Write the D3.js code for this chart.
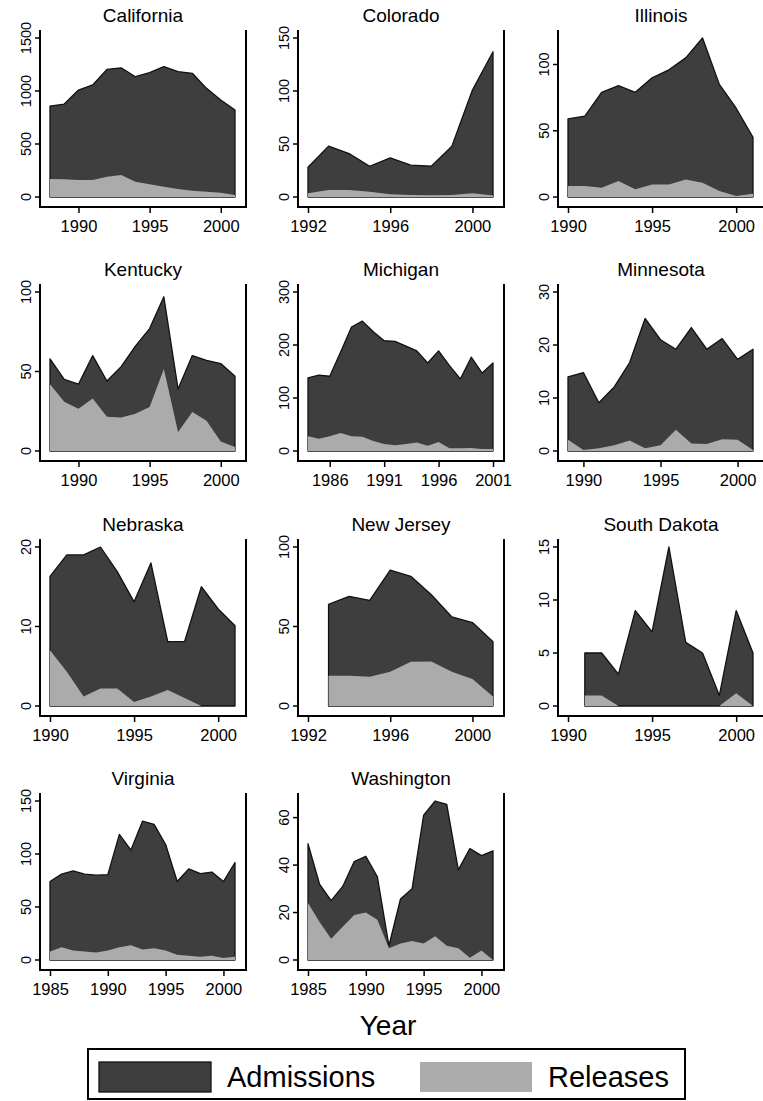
<!DOCTYPE html>
<html>
<head>
<meta charset="utf-8">
<script src="https://cdn.jsdelivr.net/npm/d3@7"></script>
<style>
  body { margin: 0; background: #fff; }
  svg { display: block; }
  text { font-family: Arial, "Liberation Sans", Helvetica, sans-serif; fill: #000; }
</style>
</head>
<body>
<div id="chart"></div>
<script>
// Prison admissions vs releases by state, small multiples (area charts)

const states = ["California", "Colorado", "Illinois", "Kentucky", "Michigan", "Minnesota",
                "Nebraska", "New Jersey", "South Dakota", "Virginia", "Washington"];

// first year of data for each state (one value per year after that)
const firstYear = [1988, 1992, 1990, 1988, 1984, 1989, 1990, 1993, 1991, 1985, 1985];

const admissions = [
  [858, 877, 1009, 1057, 1204, 1219, 1135, 1173, 1230, 1183, 1167, 1025, 915, 821],
  [28, 48, 41, 29, 37, 30, 29, 48, 101, 137],
  [59, 61, 79, 84, 79, 90, 96, 105, 120, 85, 67, 45],
  [58, 45, 42, 60, 44, 53, 66, 77, 97, 39, 60, 57, 55, 47],
  [138, 143, 141, 187, 234, 245, 225, 208, 207, 198, 189, 166, 189, 161, 136, 177, 147, 166],
  [14, 14.8, 9.1, 12.1, 16.7, 25, 21, 19.2, 23.3, 19.2, 21.2, 17.3, 19.2],
  [16.3, 19, 19, 20, 16.9, 13.1, 18, 8.1, 8.1, 15, 12.2, 10.1],
  [64, 69, 66.5, 85.4, 81.6, 70, 56, 52.5, 40.5],
  [5, 5, 3, 9, 7, 15, 6, 5, 1, 9, 5],
  [74, 81, 84, 81, 80, 80.5, 118.5, 103.7, 131, 128, 109, 74, 86, 81.5, 83, 74, 92],
  [49, 32, 25, 31, 41.5, 43.7, 35, 6, 25.7, 30, 61, 67, 65.6, 38, 47, 44, 46]
];

const releases = [
  [170, 168, 160, 160, 191, 207, 144, 120, 97, 75, 60, 50, 41, 19],
  [3.5, 6.6, 6.6, 5, 2.5, 1.9, 1.6, 1.9, 3.5, 1.3],
  [8.3, 8.3, 7, 12, 5.8, 9.5, 9.5, 13.3, 10.8, 4.5, 0.8, 2.5],
  [42, 31, 26.5, 33, 21.5, 21, 23.5, 27.7, 51.5, 12, 24.5, 19, 6, 2.5],
  [28, 23, 28, 34, 28, 27, 19, 13, 11, 13, 16, 10, 17, 5, 5, 5.5, 4, 4],
  [2.1, 0.2, 0.5, 1.1, 2, 0.5, 1.1, 4, 1.4, 1.3, 2.2, 2.1, 0.2],
  [7, 4.3, 1.2, 2.2, 2.2, 0.5, 1.2, 2, 1, 0, 0, 0],
  [19, 19, 18.4, 21.5, 27.8, 28, 21.5, 17, 6],
  [1, 1, 0, 0, 0, 0, 0, 0, 0, 1.2, 0],
  [8, 12, 9, 8, 7, 9, 12, 14, 10, 11, 9, 5, 4, 3, 4, 2, 3],
  [24, 16, 9, 14, 19, 20, 17, 5, 7, 8, 7, 10, 6, 5, 1, 4, 0]
];

const yTicks = [
  [0, 500, 1000, 1500], [0, 50, 100, 150], [0, 50, 100], [0, 50, 100],
  [0, 100, 200, 300], [0, 10, 20, 30], [0, 10, 20], [0, 50, 100],
  [0, 5, 10, 15], [0, 50, 100, 150], [0, 20, 40, 60]
];

const xTicks = [
  [1990, 1995, 2000], [1992, 1996, 2000], [1990, 1995, 2000], [1990, 1995, 2000],
  [1986, 1991, 1996, 2001], [1990, 1995, 2000], [1990, 1995, 2000], [1992, 1996, 2000],
  [1990, 1995, 2000], [1985, 1990, 1995, 2000], [1985, 1990, 1995, 2000]
];

const seriesNames = ["Admissions", "Releases"];
const seriesFill = { Admissions: "#3e3e3e", Releases: "#ababab" };

const width = 763, height = 1101;
const colX = [40, 298, 558];          // left axis line of each column
const rowY = [30, 284, 539, 793];     // top of each plot region
const plotW = 206, plotH = 177;

const svg = d3.select("#chart").append("svg")
  .attr("width", width)
  .attr("height", height);

states.forEach((name, i) => {
  const x0 = colX[i % 3], y0 = rowY[Math.floor(i / 3)];
  const years = d3.range(firstYear[i], firstYear[i] + admissions[i].length);
  const rows = years.map((yr, k) => ({ year: yr, adm: admissions[i][k], rel: releases[i][k] }));

  const xDom = [Math.min(years[0], xTicks[i][0]), Math.max(years[years.length - 1], d3.max(xTicks[i]))];
  const yMax = Math.max(d3.max(admissions[i]), d3.max(yTicks[i]));

  const x = d3.scaleLinear().domain(xDom).range([x0 + 10, x0 + plotW - 11]);
  const y = d3.scaleLinear().domain([0, yMax]).range([y0 + plotH - 10, y0 + 8]);

  const g = svg.append("g").attr("class", "panel");

  // admissions area (behind), releases on top
  const admArea = d3.area().x(d => x(d.year)).y0(y(0)).y1(d => y(d.adm));
  const relArea = d3.area().x(d => x(d.year)).y0(y(0)).y1(d => y(d.rel));

  g.append("path")
    .datum(rows)
    .attr("d", admArea)
    .attr("fill", seriesFill.Admissions)
    .attr("stroke", "#111")
    .attr("stroke-width", 1.3)
    .attr("stroke-linejoin", "round");

  g.append("path")
    .datum(rows)
    .attr("d", relArea)
    .attr("fill", seriesFill.Releases);

  // frame: left, bottom, right
  g.append("path")
    .attr("d", `M${x0},${y0}V${y0 + plotH}H${x0 + plotW}V${y0}`)
    .attr("fill", "none")
    .attr("stroke", "#000")
    .attr("stroke-width", 2);

  // y axis
  g.append("g")
    .attr("transform", `translate(${x0},0)`)
    .call(d3.axisLeft(y).tickValues(yTicks[i]).tickSize(5).tickFormat(d3.format("d")))
    .call(a => a.select(".domain").remove())
    .call(a => a.selectAll("line").attr("stroke", "#000").attr("stroke-width", 1.5))
    .call(a => a.selectAll("text")
      .attr("x", null).attr("dy", null)
      .attr("transform", d => `translate(-9,${y(d)}) rotate(-90)`)
      .attr("text-anchor", "middle")
      .style("font-size", "14.5px"))
    .call(a => a.selectAll(".tick").attr("transform", null))
    .call(a => a.selectAll(".tick line").attr("transform", d => `translate(0,${y(d)})`));

  // x axis
  g.append("g")
    .attr("transform", `translate(0,${y0 + plotH})`)
    .call(d3.axisBottom(x).tickValues(xTicks[i]).tickSize(6).tickPadding(7).tickFormat(d3.format("d")))
    .call(a => a.select(".domain").remove())
    .call(a => a.selectAll("line").attr("stroke", "#000").attr("stroke-width", 1.5))
    .call(a => a.selectAll("text").style("font-size", "16.5px"));

  // title
  g.append("text")
    .attr("x", x0 + plotW / 2)
    .attr("y", y0 - 8)
    .attr("text-anchor", "middle")
    .style("font-size", "19px")
    .text(name);
});

// x axis title
svg.append("text")
  .attr("x", 388)
  .attr("y", 1035)
  .attr("text-anchor", "middle")
  .style("font-size", "28px")
  .text("Year");

// legend
const legend = svg.append("g");
legend.append("rect")
  .attr("x", 88).attr("y", 1049)
  .attr("width", 597).attr("height", 50)
  .attr("fill", "#fff")
  .attr("stroke", "#000")
  .attr("stroke-width", 2);

const keyX = [99, 420];
seriesNames.forEach((s, k) => {
  legend.append("rect")
    .attr("x", keyX[k]).attr("y", 1062)
    .attr("width", 112).attr("height", 30)
    .attr("fill", seriesFill[s])
    .attr("stroke", k === 0 ? "#111" : "none")
    .attr("stroke-width", 1.3);
  legend.append("text")
    .attr("x", keyX[k] + 128)
    .attr("y", 1087)
    .style("font-size", "29px")
    .text(s);
});
</script>
</body>
</html>
